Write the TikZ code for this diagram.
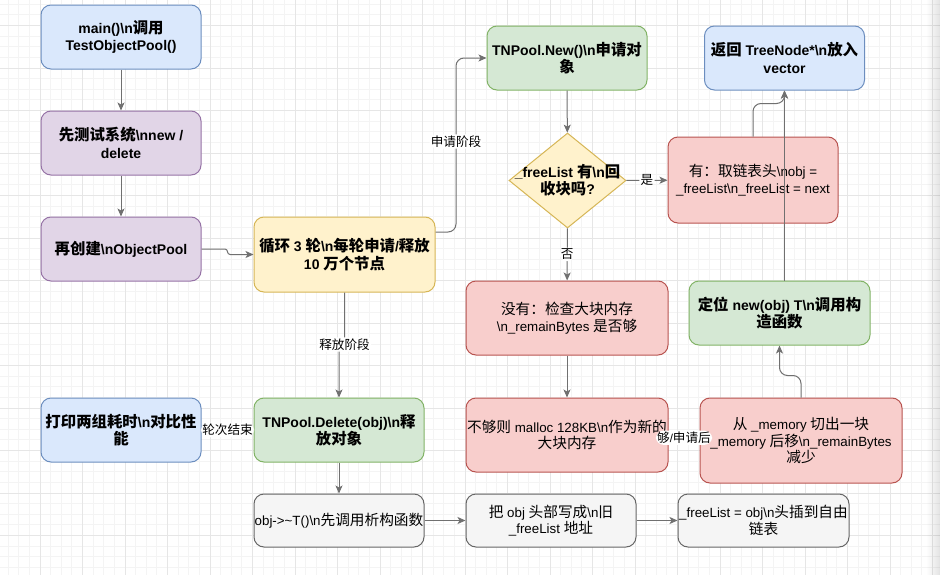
\documentclass[tikz,border=0pt]{standalone}
\usepackage{fontspec}
\setmainfont{Liberation Sans}
\newfontfamily\cjk[Scale=1.1]{Noto Sans CJK SC}
\XeTeXinterchartokenstate=1
\count255="4E00
\loop \XeTeXcharclass\count255=1 \advance\count255 by 1 \ifnum\count255<"A000 \repeat
\XeTeXcharclass"FF1A=1
\XeTeXinterchartoks 0 1 = {\begingroup\cjk}
\XeTeXinterchartoks 4095 1 = {\begingroup\cjk}
\XeTeXinterchartoks 1 0 = {\endgroup}
\XeTeXinterchartoks 1 4095 = {\endgroup}
\usetikzlibrary{arrows.meta, shapes.geometric, calc}

\definecolor{bluefill}{HTML}{DAE8FC}
\definecolor{bluedraw}{HTML}{6C8EBF}
\definecolor{purplefill}{HTML}{E1D5E7}
\definecolor{purpledraw}{HTML}{9673A6}
\definecolor{yellowfill}{HTML}{FFF2CC}
\definecolor{yellowdraw}{HTML}{D6B656}
\definecolor{greenfill}{HTML}{D5E8D4}
\definecolor{greendraw}{HTML}{82B366}
\definecolor{redfill}{HTML}{F8CECC}
\definecolor{reddraw}{HTML}{B85450}
\definecolor{grayfill}{HTML}{F5F5F5}
\definecolor{graydraw}{HTML}{666666}
\definecolor{edgegray}{HTML}{707070}
\definecolor{gridminor}{HTML}{F4F4F4}
\definecolor{gridmajor}{HTML}{E6E6E6}

\newcommand{\esc}{\textbackslash n}

\begin{document}
\begin{tikzpicture}[x=0.75pt, y=-0.75pt,
  wh/.style 2 args={minimum width=#1*0.75pt, minimum height=#2*0.75pt},
  box/.style={rectangle, rounded corners=7.5pt, line width=0.75pt, align=center, inner sep=0pt},
  bold/.style={font=\fontsize{10.5}{13}\selectfont\bfseries},
  plain/.style={font=\fontsize{10}{12.4}\selectfont},
  bluebox/.style={box, fill=bluefill, draw=bluedraw},
  purplebox/.style={box, fill=purplefill, draw=purpledraw},
  yellowbox/.style={box, fill=yellowfill, draw=yellowdraw},
  greenbox/.style={box, fill=greenfill, draw=greendraw},
  redbox/.style={box, fill=redfill, draw=reddraw},
  graybox/.style={box, fill=grayfill, draw=graydraw},
  decision/.style={diamond, fill=yellowfill, draw=yellowdraw, line width=0.75pt, inner sep=0pt},
  flow/.style={draw=edgegray, line width=0.75pt, rounded corners=6pt,
    -{Stealth[length=6pt, width=5.25pt, inset=1.5pt]}},
  tag/.style={fill=white, inner sep=1pt, font=\fontsize{8.6}{10}\selectfont}]

\useasboundingbox (0,0) rectangle (940,575);
\fill [white] (0,0) rectangle (940,575);

\foreach \i in {0,...,89}
{
  \draw [gridminor][line width=0.75pt] ({-2.5+10.625*\i},0) -- ++(0,575);
}
\foreach \j in {0,...,56}
{
  \draw [gridminor][line width=0.75pt] (0,{-17+10.625*\j}) -- ++(940,0);
}
\foreach \i in {0,...,22}
{
  \draw [gridmajor][line width=0.75pt] ({-2.5+42.5*\i},0) -- ++(0,575);
}
\foreach \j in {0,...,14}
{
  \draw [gridmajor][line width=0.75pt] (0,{-17+42.5*\j}) -- ++(940,0);
}
\foreach \i in {0,...,13}
{
  \fill [black, opacity=0.008*\i] ({926+\i},0) rectangle ++(1,575);
}

\node [bluebox, bold, wh={160}{64}] (main) at (121,37) {main()\esc{}调用\\TestObjectPool()};
\node [purplebox, bold, wh={160}{64}] (test) at (121,143) {先测试系统\esc{}new /\\delete};
\node [purplebox, bold, wh={160}{64}] (create) at (121,249) {再创建\esc{}ObjectPool};
\node [yellowbox, bold, wh={181}{75}] (loop) at (344.5,254.5) {循环 3 轮\esc{}每轮申请/释放\\10 万个节点};

\node [greenbox, bold, wh={160}{64}] (new) at (567,58) {TNPool.New()\esc{}申请对\\象};
\node [decision, wh={117}{95},
  label={[bold, align=center]center:{\_freeList 有\esc{}回\\收块吗?}}] (check) at (567.5,180.5) {};
\node [redbox, plain, wh={170}{86}] (hit) at (753,180) {有：取链表头\esc{}obj =\\\_freeList\esc{}\_freeList = next};
\node [bluebox, bold, wh={160}{64}] (ret) at (784.5,58) {返回 TreeNode*\esc{}放入\\vector};

\node [redbox, plain, wh={202}{74}] (miss) at (567,318) {没有：检查大块内存\\\esc{}\_remainBytes 是否够};
\node [greenbox, bold, wh={181}{64}] (place) at (779.5,313) {定位 new(obj) T\esc{}调用构\\造函数};
\node [redbox, plain, wh={202}{74}] (grow) at (567,435) {不够则 malloc 128KB\esc{}作为新的\\大块内存};
\node [redbox, plain, wh={202}{85}] (carve) at (801,440.5) {从 \_memory 切出一块\\\_memory 后移\esc{}\_remainBytes\\减少};

\node [bluebox, bold, wh={160}{64}] (report) at (121,430) {打印两组耗时\esc{}对比性\\能};
\node [greenbox, bold, wh={170}{64}] (del) at (339,430) {TNPool.Delete(obj)\esc{}释\\放对象};
\node [graybox, plain, wh={170}{53}] (dtor) at (339,520.5) {obj->\textasciitilde T()\esc{}先调用析构函数};
\node [graybox, plain, wh={170}{53}] (link) at (551,520.5) {把 obj 头部写成\esc{}旧\\\_freeList 地址};
\node [graybox, plain, wh={171}{53}] (push) at (763.5,520.5) {\_freeList = obj\esc{}头插到自由\\链表};

\draw [flow] (main) -- (test);
\draw [flow] (test) -- (create);
\draw [flow][rounded corners=2pt] (create.east) -- ++(26,0) |- (loop.west);
\draw [flow] ($(loop.east)+(0,-22.5)$) -- ++(20.5,0) |- node[tag, pos=0.26]{申请阶段} (new.west);
\draw [flow] (new) -- (check);
\draw [flow] (check) -- node[tag]{是} (hit);
\draw [flow] (check) -- node[tag]{否} (miss);
\draw [flow] (hit.north) |- ($(ret.south)+(0,13)$) -- (ret.south);
\draw [flow] (place.north -| ret.south) -- (ret.south);
\draw [flow] (miss) -- (grow);
\draw [flow] (carve.north) -- ++(0,-22) -| (place.south);
\draw [flow] (grow) -- node[tag]{够/申请后} (carve);
\draw [flow][rounded corners=2pt] (loop.south) -- ++(0,52) node[tag]{释放阶段} -| (del.north);
\draw [flow] (del) -- node[tag]{轮次结束} (report);
\draw [flow] (del) -- (dtor);
\draw [flow] (dtor) -- (link);
\draw [flow] (link) -- (push);
\end{tikzpicture}
\end{document}
